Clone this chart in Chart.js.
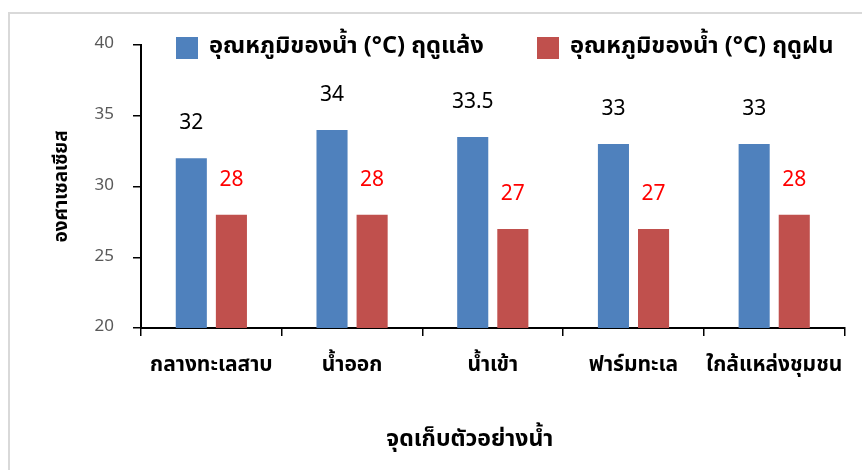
<!DOCTYPE html>
<html>
<head>
<meta charset="utf-8">
<script src="https://cdn.jsdelivr.net/npm/chart.js@4.4.1/dist/chart.umd.min.js"></script>
<style>
  html,body{margin:0;padding:0;background:#fff;}
  #wrap{position:relative;width:862px;height:470px;overflow:hidden;}
  #frame{position:absolute;left:8px;top:12px;width:900px;height:500px;border:2px solid #d9d9d9;box-sizing:border-box;}
  canvas{position:absolute;left:0;top:0;}
</style>
</head>
<body>
<div id="wrap">
  <div id="frame"></div>
  <canvas id="c" width="862" height="470"></canvas>
</div>
<script>
const categories = ['กลางทะเลสาบ', 'น้ำออก', 'น้ำเข้า', 'ฟาร์มทะเล', 'ใกล้แหล่งชุมชน'];
const drySeason = [32, 34, 33.5, 33, 33];
const rainySeason = [28, 28, 27, 27, 28];
const seriesNames = ['อุณหภูมิของน้ำ (°C) ฤดูแล้ง', 'อุณหภูมิของน้ำ (°C) ฤดูฝน'];
const yTicks = [20, 25, 30, 35, 40];
const yTitle = 'องศาเซลเซียส';
const xTitle = 'จุดเก็บตัวอย่างน้ำ';

const FONT = "Tahoma, 'Noto Sans Thai', 'Leelawadee UI', 'DejaVu Sans', sans-serif";
const colors = ['#4F81BD', '#C0504D'];
const labelColors = ['#000000', '#FF0000'];

const labelPlugin = {
  id: 'valueLabels',
  afterDatasetsDraw(chart) {
    const ctx = chart.ctx;
    ctx.save();
    ctx.font = '21px ' + FONT;
    ctx.textAlign = 'center';
    ctx.textBaseline = 'middle';
    chart.data.datasets.forEach((ds, i) => {
      const meta = chart.getDatasetMeta(i);
      meta.data.forEach((bar, j) => {
        ctx.fillStyle = labelColors[i];
        ctx.fillText(String(ds.data[j]), bar.x, bar.y - 33);
      });
    });
    ctx.restore();
  }
};

const legendPlugin = {
  id: 'customLegend',
  afterDraw(chart) {
    const ctx = chart.ctx;
    const a = chart.chartArea;
    ctx.save();
    ctx.font = 'bold 23.7px ' + FONT;
    ctx.textBaseline = 'middle';
    const starts = [a.left + 35, a.left + 396];
    chart.data.datasets.forEach((ds, i) => {
      const x = starts[i];
      const y = a.top + 3;
      ctx.fillStyle = colors[i];
      ctx.fillRect(x, y - 11, 22, 22);
      ctx.fillStyle = '#000';
      ctx.fillText(ds.label, x + 33, y);
    });
    // x-axis title
    ctx.font = 'bold 23px ' + FONT;
    ctx.textAlign = 'center';
    ctx.fillText(xTitle, (a.left + a.right) / 2 - 23, 441);
    ctx.restore();
  }
};

new Chart(document.getElementById('c'), {
  type: 'bar',
  data: {
    labels: categories,
    datasets: [
      { label: seriesNames[0], data: drySeason, backgroundColor: colors[0], barPercentage: 0.775, categoryPercentage: 0.57 },
      { label: seriesNames[1], data: rainySeason, backgroundColor: colors[1], barPercentage: 0.775, categoryPercentage: 0.57 }
    ]
  },
  options: {
    responsive: false,
    animation: false,
    layout: { padding: { left: 0, top: 45, right: 17, bottom: 0 } },
    plugins: { legend: { display: false }, tooltip: { enabled: false } },
    scales: {
      x: {
        afterFit(s) { s.height = 142; },
        grid: { display: true, drawOnChartArea: false, drawTicks: true, tickLength: 8, color: '#000', lineWidth: 1.5, offset: true },
        border: { display: true, color: '#000', width: 2 },
        ticks: { color: '#000', font: { family: FONT, size: 21, weight: 'bold' }, padding: 18, maxRotation: 0 },
        title: { display: false }
      },
      y: {
        min: 20, max: 40,
        afterFit(s) { s.width = 141; },
        afterBuildTicks(s) { s.ticks = yTicks.map(v => ({ value: v })); },
        grid: { display: true, drawOnChartArea: false, drawTicks: true, tickLength: 8, color: '#000', lineWidth: 1.5 },
        border: { display: true, color: '#000', width: 2 },
        ticks: { color: '#595959', font: { family: FONT, size: 17 }, padding: 19 },
        title: { display: true, text: yTitle, color: '#000', font: { family: FONT, size: 19, weight: 'bold' }, padding: { top: 52, bottom: 0 } }
      }
    }
  },
  plugins: [labelPlugin, legendPlugin]
});
</script>
</body>
</html>
